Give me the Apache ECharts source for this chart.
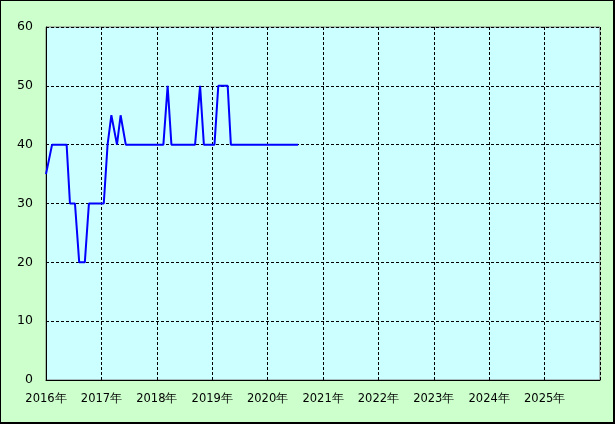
<!DOCTYPE html>
<html><head><meta charset="utf-8">
<script src="https://cdn.jsdelivr.net/npm/echarts@6/dist/echarts.min.js"></script>
<style>
html,body{margin:0;padding:0;background:#ccffcc;}
#c{width:615px;height:424px;box-sizing:border-box;border:1px solid #000;border-right-width:2px;border-bottom-width:2px;}
</style></head><body>
<div id="c"></div>
<script>
const dates = ['2016-01-01','2016-01-14','2016-02-10','2016-05-16','2016-06-07','2016-07-10','2016-08-07','2016-09-13','2016-10-10','2017-01-16','2017-02-10','2017-03-07','2017-04-13','2017-05-07','2017-06-10','2018-02-13','2018-03-13','2018-04-07','2018-09-10','2018-10-13','2018-11-07','2019-01-16','2019-02-10','2019-04-13','2019-05-04','2020-07-20'];
const values = [35,35,40,40,30,30,20,20,30,30,40,45,40,45,40,40,50,40,40,50,40,40,50,50,40,40];
const yTicks = [0,10,20,30,40,50,60];
const xMin = '2016-01-01', xMax = '2026-01-01';

const chart = echarts.init(document.getElementById('c'), null, {renderer:'canvas'});
const font = 'DejaVu Sans, sans-serif';
chart.setOption({
  animation:false,
  backgroundColor:'#ccffcc',
  grid:{left:45,right:13,top:26,bottom:42,show:true,backgroundColor:'#ccffff',borderColor:'#808080',borderWidth:1,containLabel:false},
  xAxis:{type:'time',min:xMin,max:xMax,
    minInterval:365*24*3600*1000, maxInterval:366*24*3600*1000,
    axisLine:{show:true,lineStyle:{color:'#000',width:1}},
    axisTick:{show:false},
    splitLine:{show:true,lineStyle:{color:'#000',type:[3,2],width:1}},
    axisLabel:{color:'#000',fontSize:11.5,fontFamily:font,margin:13,showMaxLabel:false,hideOverlap:false,
      formatter:function(v){return new Date(v).getFullYear()+'年';}}
  },
  yAxis:{type:'value',min:yTicks[0],max:yTicks[yTicks.length-1],interval:10,
    axisLine:{show:true,lineStyle:{color:'#000',width:1}},
    axisTick:{show:false},
    splitLine:{show:true,lineStyle:{color:'#000',type:[3,2],width:1}},
    axisLabel:{color:'#000',fontSize:12.5,fontFamily:font,margin:13}
  },
  series:[{type:'line',data:dates.map((d,i)=>[d,values[i]]),showSymbol:false,symbol:'none',
    lineStyle:{color:'#0000ff',width:2},itemStyle:{color:'#0000ff'}}]
});
</script></body></html>
